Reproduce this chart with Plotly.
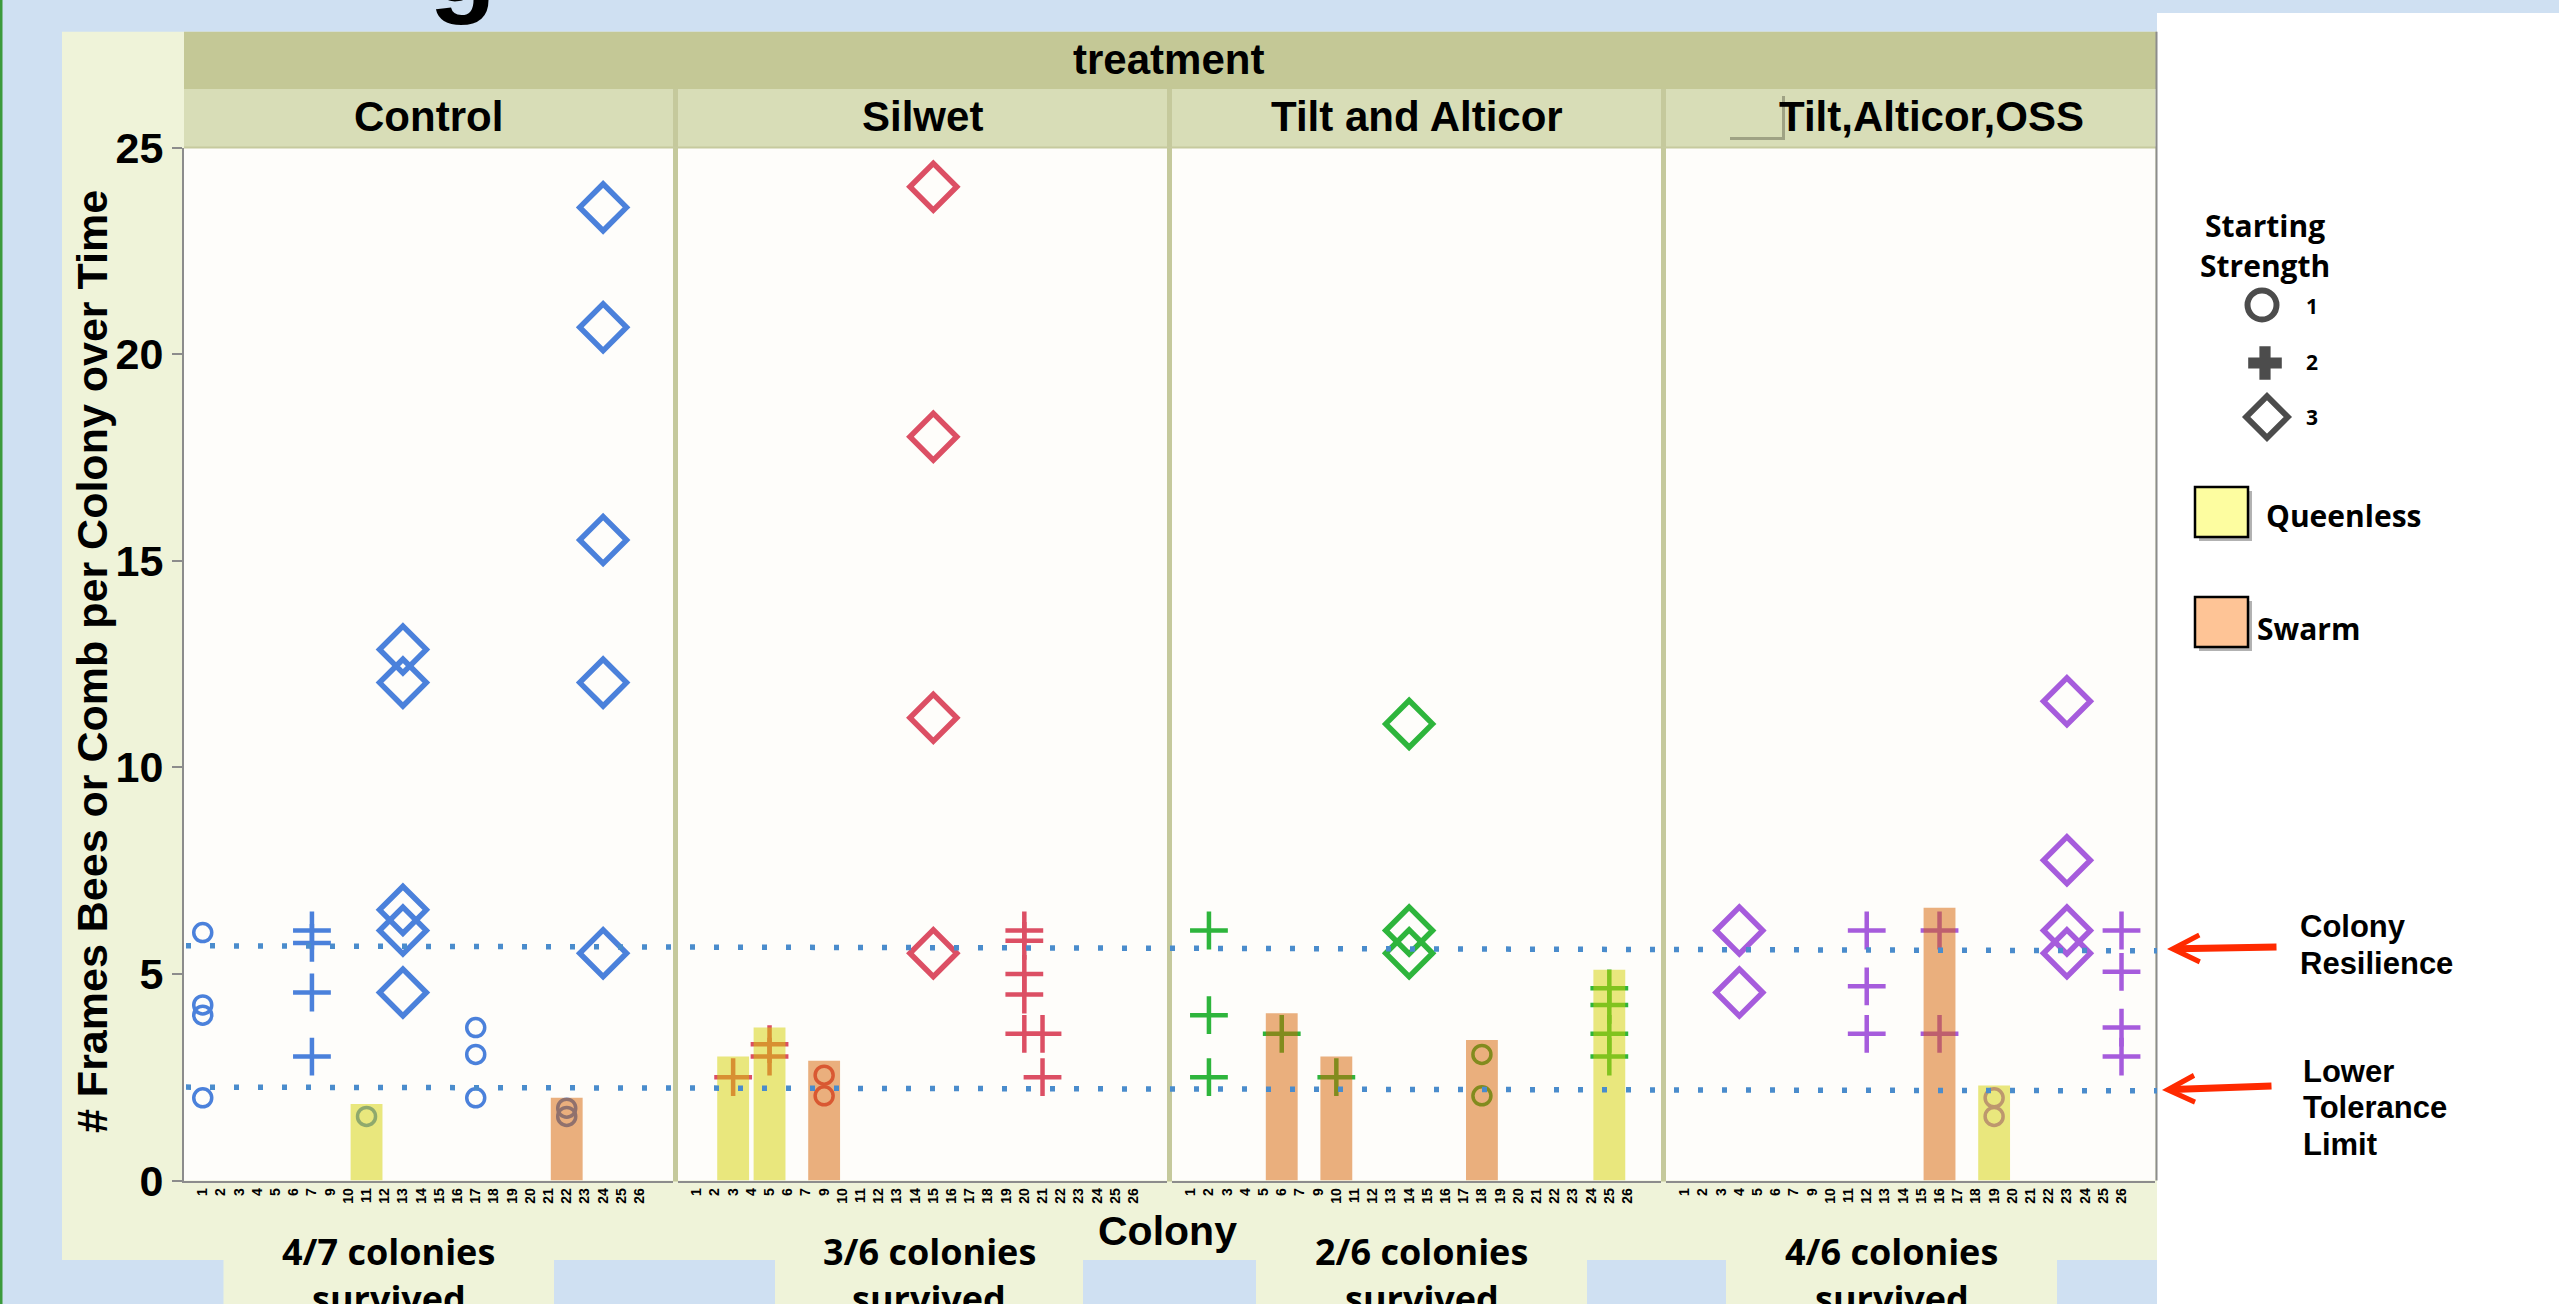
import plotly.graph_objects as go

# ---------------------------------------------------------------- data ----
colonies = ["1", "2", "3", "4", "5", "6", "7", "9", "10", "11", "12", "13",
            "14", "15", "16", "17", "18", "19", "20", "21", "22", "23", "24",
            "25", "26"]
treatments = ["Control", "Silwet", "Tilt and Alticor", "Tilt,Alticor,OSS"]
survival = ["4/7 colonies", "3/6 colonies", "2/6 colonies", "4/6 colonies"]
strength_levels = ["1", "2", "3"]
y_ticks = [0, 5, 10, 15, 20, 25]

# (colony, frames of bees or comb) per starting strength
control_s1 = [("1", 6.0), ("1", 4.25), ("1", 4.0), ("1", 2.0), ("11", 1.55),
              ("17", 3.7), ("17", 3.05), ("17", 2.0), ("22", 1.75), ("22", 1.55)]
control_s2 = [("7", 6.05), ("7", 5.75), ("7", 4.55), ("7", 3.0)]
control_s3 = [("13", 12.85), ("13", 12.05), ("13", 6.55), ("13", 6.05), ("13", 4.55),
              ("24", 23.55), ("24", 20.65), ("24", 15.5), ("24", 12.05), ("24", 5.5)]

silwet_s1 = [("9", 2.55), ("9", 2.05)]
silwet_s2 = [("3", 2.5), ("5", 3.3), ("5", 3.0), ("20", 6.05), ("20", 5.8),
             ("20", 5.0), ("20", 4.5), ("20", 3.55), ("21", 3.55), ("21", 2.5)]
silwet_s3 = [("15", 24.05), ("15", 18.0), ("15", 11.2), ("15", 5.5)]

tilt_s1 = [("18", 3.05), ("18", 2.05)]
tilt_s2 = [("2", 6.05), ("2", 4.0), ("2", 2.5), ("6", 3.55), ("10", 2.5),
           ("25", 4.65), ("25", 4.25), ("25", 3.55), ("25", 3.0)]
tilt_s3 = [("14", 11.05), ("14", 6.05), ("14", 5.5)]

oss_s1 = [("19", 2.0), ("19", 1.55)]
oss_s2 = [("12", 6.05), ("12", 4.7), ("12", 3.55), ("16", 6.05), ("16", 3.55),
          ("26", 6.05), ("26", 5.05), ("26", 3.7), ("26", 3.0)]
oss_s3 = [("4", 6.05), ("4", 4.55), ("23", 11.6), ("23", 7.75), ("23", 6.05), ("23", 5.5)]

# colony status bars (colony, height)
control_queenless = [("11", 1.85)]
control_swarm = [("22", 2.0)]
silwet_queenless = [("3", 3.0), ("5", 3.7)]
silwet_swarm = [("9", 2.9)]
tilt_queenless = [("25", 5.1)]
tilt_swarm = [("6", 4.05), ("10", 3.0), ("18", 3.4)]
oss_queenless = [("19", 2.3)]
oss_swarm = [("16", 6.6)]

# reference levels (left end, right end)
colony_resilience = (5.68, 5.56)
lower_tolerance = (2.26, 2.17)

# -------------------------------------------------------------- layout ----
W, H = 2559, 1304


def fx(px):
    return px / W


def fy(py):
    return 1 - py / H


PANEL_LEFT = [184, 678, 1172, 1666]
PANEL_W = 489
PLOT_TOP, PLOT_BOT = 147.5, 1180.5
X_RANGE = [-1.03, 25.84]
Y_RANGE = [0, 25]

HELV = "Liberation Sans, Arial, sans-serif"
CAL = "Open Sans, sans-serif"

SERIES_COLORS = ["#4B81DB", "#DC4F64", "#2EB53C", "#A65CDC"]
SYMBOLS = ["circle-open", "cross-thin-open", "diamond-open"]
SYM_SIZE = [18, 27, 36]
SYM_LW = [3.5, 4.5, 5.5]
QUEENLESS_FILL = "rgba(212,210,0,0.5)"
SWARM_FILL = "rgba(214,98,0,0.5)"

BLUE_BG = "#CFE0F2"
GREEN_BG = "#EFF3D9"
STRIP_DARK = "#C4C896"
STRIP_LIGHT = "#D8DDB7"
SEPARATOR = "#C5C99C"
FRAME = "#8C8C8C"

pos = {c: i for i, c in enumerate(colonies)}

panel_points = [
    [control_s1, control_s2, control_s3],
    [silwet_s1, silwet_s2, silwet_s3],
    [tilt_s1, tilt_s2, tilt_s3],
    [oss_s1, oss_s2, oss_s3],
]
panel_bars = [
    [(control_queenless, QUEENLESS_FILL), (control_swarm, SWARM_FILL)],
    [(silwet_queenless, QUEENLESS_FILL), (silwet_swarm, SWARM_FILL)],
    [(tilt_queenless, QUEENLESS_FILL), (tilt_swarm, SWARM_FILL)],
    [(oss_queenless, QUEENLESS_FILL), (oss_swarm, SWARM_FILL)],
]

fig = go.Figure()
axes = {}

for k in range(4):
    n = k + 1
    sfx = "" if n == 1 else str(n)
    xname, yname = f"x{sfx}", f"y{sfx}"
    over = f"y{n + 4}"

    for s, pts in enumerate(panel_points[k]):
        fig.add_trace(go.Scatter(
            x=[pos[c] for c, _ in pts], y=[v for _, v in pts],
            mode="markers", xaxis=xname, yaxis=yname,
            name=f"{treatments[k]} / strength {strength_levels[s]}",
            marker=dict(symbol=SYMBOLS[s], size=SYM_SIZE[s], color=SERIES_COLORS[k],
                        line=dict(width=SYM_LW[s], color=SERIES_COLORS[k])),
            cliponaxis=False, hoverinfo="skip", showlegend=False))

    # status bars sit on an overlaid axis so they tint the markers beneath
    for pts, fill in panel_bars[k]:
        fig.add_trace(go.Bar(
            x=[pos[c] for c, _ in pts], y=[v for _, v in pts],
            width=[1.75] * len(pts), xaxis=xname, yaxis=over,
            marker=dict(color=fill, line=dict(width=0)),
            hoverinfo="skip", showlegend=False))

    left = PANEL_LEFT[k]
    axes[f"xaxis{sfx}"] = dict(
        domain=[fx(left), fx(left + PANEL_W)], range=X_RANGE, anchor=yname,
        tickmode="array", tickvals=list(range(len(colonies))), ticktext=colonies,
        tickangle=-90, tickfont=dict(family=HELV, size=14, color="black", weight="bold"),
        ticks="", showline=True, linecolor=FRAME, linewidth=2,
        showgrid=False, zeroline=False, fixedrange=True)
    ya = dict(domain=[fy(PLOT_BOT), fy(PLOT_TOP)], range=Y_RANGE, anchor=xname,
              showgrid=False, zeroline=False, fixedrange=True)
    if n == 1:
        ya.update(tickmode="array", tickvals=y_ticks, ticks="outside", ticklen=10,
                  tickwidth=2, tickcolor=FRAME, showline=True, linecolor=FRAME,
                  linewidth=2,
                  tickfont=dict(family=HELV, size=43, color="black", weight="bold"))
    else:
        ya.update(showticklabels=False, ticks="", showline=False)
    axes[f"yaxis{sfx}"] = ya
    axes[f"yaxis{n + 4}"] = dict(overlaying=yname, anchor=xname, range=Y_RANGE,
                                 visible=False, fixedrange=True)

# key glyphs for starting strength, in a hidden pixel-scaled frame
axes["xaxis5"] = dict(domain=[fx(2160), 1], range=[2160, W], anchor="y9",
                      visible=False, fixedrange=True)
axes["yaxis9"] = dict(domain=[0, 1], range=[H, 0], anchor="x5",
                      visible=False, fixedrange=True)
fig.add_trace(go.Scatter(
    x=[2262, 2265, 2267], y=[305, 363, 417], mode="markers",
    xaxis="x5", yaxis="y9",
    marker=dict(symbol=["circle-open", "cross", "diamond-open"], size=[29, 28, 32],
                color="black", line=dict(width=[6, 0, 6], color="black")),
    hoverinfo="skip", showlegend=False, cliponaxis=False))

# ------------------------------------------------------------- shapes ----
shapes = []


def rect(x0, y0, x1, y1, color, line=None, layer="below"):
    shapes.append(dict(type="rect", xref="paper", yref="paper",
                       x0=fx(x0), x1=fx(x1), y0=fy(y1), y1=fy(y0),
                       fillcolor=color, line=line or dict(width=0), layer=layer))


def pline(x0, y0, x1, y1, color, width, layer="below"):
    shapes.append(dict(type="line", xref="paper", yref="paper",
                       x0=fx(x0), x1=fx(x1), y0=fy(y0), y1=fy(y1),
                       line=dict(color=color, width=width), layer=layer))


rect(62, 31.7, 2157, 1260, GREEN_BG)
for bx0, bx1 in [(223.5, 554), (775, 1083), (1256, 1587), (1726, 2057)]:
    rect(bx0, 1258, bx1, H, GREEN_BG)
rect(2157, 13, W, H, "white")
rect(0, 0, 2.5, H, "#3C9A3C")

rect(184, 31.7, 2157, 89, STRIP_DARK)
for k in range(4):
    left = PANEL_LEFT[k]
    rect(left, 89, left + PANEL_W, PLOT_TOP, STRIP_LIGHT)
    rect(left, PLOT_TOP, left + PANEL_W, PLOT_BOT, "#FEFDFA")
for k in range(3):
    rect(PANEL_LEFT[k] + PANEL_W, 89, PANEL_LEFT[k + 1], PLOT_BOT + 1, SEPARATOR)
pline(184, PLOT_TOP, 2157, PLOT_TOP, "#C6CA9E", 2)

# small patch in the last strip
rect(1730, 96, 1785, 140, "rgba(90,90,70,0.45)")
rect(1728, 93, 1782, 137, STRIP_LIGHT)

pline(2156.5, 31.7, 2156.5, PLOT_BOT, FRAME, 2)

# key boxes
rect(2199, 491, 2252, 541, "rgba(0,0,0,0.3)")
rect(2195, 487, 2248, 537, "#FDFDA0", line=dict(color="black", width=2.5))
rect(2199, 601, 2252, 651, "rgba(0,0,0,0.3)")
rect(2195, 597, 2248, 647, "#FEC496", line=dict(color="black", width=2.5))

# dotted reference levels across all panels
for lvl in (colony_resilience, lower_tolerance):
    shapes.append(dict(type="line", xref="paper", yref="y",
                       x0=fx(186), x1=fx(2157), y0=lvl[0], y1=lvl[1],
                       line=dict(color="#4A8CCC", width=5.5, dash="5px,19px"),
                       layer="above"))

# --------------------------------------------------------- annotations ----
ann = []


def label(x, y, s, size, family=HELV, xanchor="center", yanchor="middle",
          angle=0):
    ann.append(dict(x=fx(x), y=fy(y), xref="paper", yref="paper", text=s,
                    showarrow=False, xanchor=xanchor, yanchor=yanchor,
                    textangle=angle,
                    font=dict(family=family, size=size, color="black", weight="bold")))


label(462, 27, "g", 110, yanchor="bottom")
label(1168, 60, "treatment", 42)
strip_centres = [428.5, 922.5, 1416.5, 1931.5]
for k in range(4):
    label(strip_centres[k], 117, treatments[k], 42)
label(1167, 1231, "Colony", 41)
label(92, 662, "# Frames Bees or Comb per Colony over Time", 43, angle=-90)

survival_centres = [388.75, 929, 1421.5, 1891.5]
for k in range(4):
    label(survival_centres[k], 1251, survival[k], 36, family=CAL)
    label(survival_centres[k], 1298, "survived", 36, family=CAL)

label(2265, 225, "Starting", 30, family=CAL)
label(2265, 265, "Strength", 30, family=CAL)
for lvl, yy in zip(strength_levels, [306, 362, 417]):
    label(2312, yy, lvl, 21, family=CAL)
label(2264, 515, "Queenless", 30, family=CAL, xanchor="left")
label(2255, 628, "Swarm", 30, family=CAL, xanchor="left")

for txt, yy in [("Colony", 926), ("Resilience", 963)]:
    label(2298, yy, txt, 31, xanchor="left")
for txt, yy in [("Lower", 1071), ("Tolerance", 1107), ("Limit", 1144)]:
    label(2301, yy, txt, 31, xanchor="left")

for hx, hy, tx, ty in [(2167, 949, 2278, 947), (2162, 1090, 2273, 1086)]:
    ann.append(dict(x=fx(hx), y=fy(hy), xref="paper", yref="paper", text="",
                    showarrow=True, ax=tx - hx, ay=ty - hy,
                    axref="pixel", ayref="pixel", arrowhead=5, arrowsize=0.75,
                    arrowwidth=7, arrowcolor="#FF2A00", standoff=0))

fig.update_layout(
    width=W, height=H,
    margin=dict(l=0, r=0, t=0, b=0, pad=0, autoexpand=False),
    paper_bgcolor=BLUE_BG, plot_bgcolor="rgba(0,0,0,0)",
    showlegend=False, barmode="overlay",
    shapes=shapes, annotations=ann, **axes)

fig.write_html("out.html", include_plotlyjs=True, full_html=True,
               config={"displayModeBar": False})
